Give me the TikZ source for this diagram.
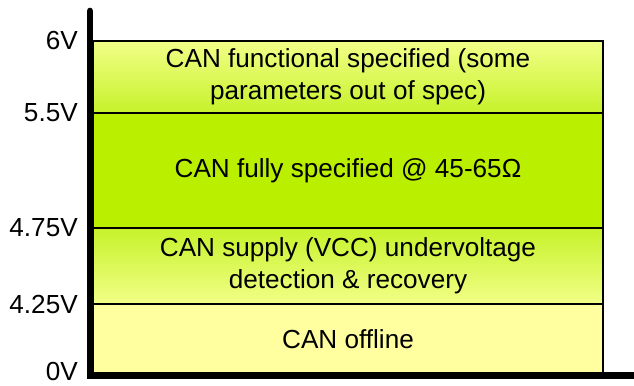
\documentclass[tikz,border=0pt]{standalone}
\usepackage{fontspec}
\setmainfont{Liberation Sans}
\usetikzlibrary{positioning}

\definecolor{palelemon}{HTML}{FFFFA0}
\definecolor{lightlemon}{HTML}{F2FF88}
\definecolor{lime}{HTML}{BAF000}
\definecolor{midlime}{HTML}{C6F22A}

\tikzset{
  band/.style={draw=black, line width=1.5pt, outer sep=0pt, inner sep=0pt,
    minimum width=382.5pt, align=center, font=\fontsize{19.6pt}{24pt}\selectfont},
  volt/.style={anchor=east, inner sep=0pt, font=\fontsize{19.6pt}{24pt}\selectfont},
  axis/.style={line width=5pt}
}

\begin{document}
\begin{tikzpicture}[x=0.75pt, y=-0.75pt]
\useasboundingbox (0,0) rectangle (634,385);

% bands, top to bottom
\node[band, minimum height=54pt, top color=lightlemon, bottom color=midlime]
  (func) at (348,77) {CAN functional specified (some\\parameters out of spec)};
\node[band, minimum height=86.25pt, fill=lime, below=0pt of func]
  (full) {CAN fully specified @ 45-65Ω};
\node[band, minimum height=57pt, top color=midlime, bottom color=lightlemon, below=0pt of full]
  (supply) {CAN supply (VCC) undervoltage\\detection \& recovery};
\node[band, minimum height=53.25pt, fill=palelemon, below=0pt of supply]
  (offline) {CAN offline};

% axis
\coordinate (top) at (90,11);
\coordinate (origin) at (90,375.5);
\coordinate (right) at (634,375.5);
\draw[axis, line cap=round] (top) -- (origin |- func.north);
\draw[axis] (origin |- func.north) -- ([yshift=-2.5pt]origin);
\draw[axis] ([xshift=-2.5pt]origin) -- (right);

% voltage labels
\node[volt] (v6) at (78,41) {6V};
\node[volt] (v55) at (78,113) {5.5V};
\node[volt] (v475) at (78,228) {4.75V};
\node[volt] (v425) at (78,304) {4.25V};
\node[volt] (v0) at (78,371) {0V};

\end{tikzpicture}
\end{document}
